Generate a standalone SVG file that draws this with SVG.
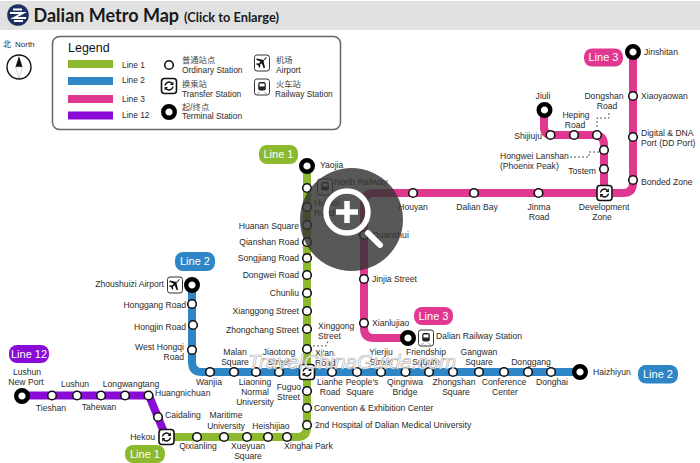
<svg xmlns="http://www.w3.org/2000/svg" width="700" height="463" viewBox="0 0 700 463">
<style>
text{font-family:"Liberation Sans",Arial,"Noto Sans CJK SC",sans-serif;font-size:8.6px;fill:#2b2b2b}
.e{text-anchor:end}.m{text-anchor:middle}
.ln{fill:none;stroke-width:8;stroke-linejoin:round}
.st{fill:#fff;stroke:#111;stroke-width:1.6}
.tm{fill:#fff;stroke:#000;stroke-width:4.4}
.tag{font-size:11px;fill:#fff;text-anchor:middle}
.leg{font-size:8.4px}
.cn{font-size:8.3px;fill:#444}
.ic{fill:#fff;stroke:#333;stroke-width:1}
</style>
<defs>
<g id="s"><circle r="4.3" class="st"/></g>
<g id="t"><circle r="5.8" class="tm"/></g>
<g id="x"><rect x="-7.5" y="-7.5" width="15" height="15" rx="3" fill="#fff" stroke="#111" stroke-width="1.6"/><path d="M-4 -.5A4 4 0 0 1 3 -2.5M4 .5A4 4 0 0 1 -3 2.5" fill="none" stroke="#111" stroke-width="1.5"/><path d="M4.4 -4.5V-1H1ZM-4.4 4.5V1H-1Z" fill="#111"/></g>
<g id="r"><rect x="-7.5" y="-8" width="15" height="16" rx="2.5" class="ic"/><rect x="-3.8" y="-5" width="7.6" height="8.5" rx="2" fill="#222"/><rect x="-2.5" y="-3.5" width="5" height="3" fill="#fff"/><path d="M-3 5.5L-4 6.5M3 5.5L4 6.5" stroke="#222"/></g>
<g id="a"><rect x="-7.5" y="-8" width="15" height="16" rx="2.5" class="ic"/><path d="M5 -5.5L1.500 -2L3 4.500L1.800 5.500L-.3 .2L-2 1.800L-1.800 4L-2.800 4.800L-3.800 2.200L-6 1.200L-5.300 .2L-3 .4L-1.300 -1.300L-6 -3.400L-5 -4.500L1.400 -3L4 -5.800Z" fill="#111"/></g>
</defs>

<g id="header">
<rect x="0" y="1" width="700" height="29" fill="#e1e1e1"/>
<circle cx="18" cy="15" r="10.8" fill="#1e2f63"/>
<path d="M10 13H23L14 18H26M13 9.500H22M14 21H23" fill="none" stroke="#fff" stroke-width="2"/>
<text x="33.500" y="22" style="font-family:Lato,sans-serif;font-size:18px;font-weight:700;fill:#1a1a1a">Dalian Metro Map</text>
<text x="184" y="22" style="font-family:Lato,sans-serif;font-size:12.8px;font-weight:700;fill:#1a1a1a">(Click to Enlarge)</text>
</g>

<g id="compass">
<text x="3" y="47" style="font-size:8px">北</text><text x="15" y="47" style="font-size:8px">North</text>
<circle cx="19" cy="67" r="12" fill="#fff" stroke="#111" stroke-width="1.4"/>
<path d="M19 56L15.500 67H22.500Z" fill="#111"/><path d="M15.500 67H22.500L19 78Z" fill="#fff" stroke="#bbb" stroke-width=".6"/>
</g>

<g id="legend">
<rect x="52.500" y="36.500" width="288" height="93" rx="7" fill="#fff" stroke="#666" stroke-width="1.5"/>
<text x="68" y="52" style="font-size:12.5px;fill:#111">Legend</text>
<rect x="68" y="60" width="45" height="8" fill="#8db92e"/><rect x="68" y="77" width="45" height="8" fill="#2f86c6"/><rect x="68" y="95" width="45" height="8" fill="#e0388f"/><rect x="68" y="111.500" width="45" height="8" fill="#8a0bd8"/>
<text x="122" y="68" class="leg">Line 1</text><text x="122" y="83" class="leg">Line 2</text><text x="122" y="102" class="leg">Line 3</text><text x="122" y="118" class="leg">Line 12</text>
<use href="#s" x="169" y="65"/><use href="#x" x="169" y="86"/><use href="#t" x="169" y="112"/>
<text x="182" y="63" class="cn">普通站点</text><text x="182" y="72.500" class="leg">Ordinary Station</text>
<text x="182" y="87" class="cn">换乘站</text><text x="182" y="96.500" class="leg">Transfer Station</text>
<text x="182" y="110" class="cn">起/终点</text><text x="182" y="119" class="leg">Terminal Station</text>
<use href="#a" x="262" y="63"/><use href="#r" x="262" y="87"/>
<text x="276" y="63" class="cn">机场</text><text x="276" y="72.500" class="leg">Airport</text>
<text x="276" y="87" class="cn">火车站</text><text x="275" y="96.500" class="leg">Railway Station</text>
</g>

<g id="connectors">
<path class="ln" stroke="#8a0bd8" d="M22 395.500H149L166 437"/>
<path class="ln" stroke="#8db92e" d="M307 166V427Q307 437 297 437H166"/>
<path class="ln" stroke="#2f86c6" d="M192 285V362Q192 372 202 372H580"/>
<path class="ln" stroke="#e0388f" d="M633 52V183Q633 193 623 193H374Q364 193 364 203V328Q364 338 374 338H408"/>
<path class="ln" stroke="#e0388f" d="M544 110V127Q544 135 552 135H594Q604 135 604 145V193"/>
<path d="M313 346H326L328 341" fill="none" stroke="#555" stroke-width="1" stroke-dasharray="2 2"/>
<path d="M597 127V118H609V112M570 157H589V152H599" fill="none" stroke="#555" stroke-width="1" stroke-dasharray="2 2"/>
</g>

<g id="tag-line1a"><rect x="259" y="145" width="39" height="19" rx="8" fill="#8db92e"/><text x="278.500" y="158" class="tag">Line 1</text></g>
<g id="tag-line2a"><rect x="175" y="252" width="40" height="19" rx="8" fill="#2f86c6"/><text x="195" y="265" class="tag">Line 2</text></g>
<g id="tag-line3a"><rect x="584" y="48.500" width="39" height="18" rx="8" fill="#e0388f"/><text x="603.500" y="61" class="tag">Line 3</text></g>
<g id="tag-line3b"><rect x="414" y="307" width="39" height="18" rx="8" fill="#e0388f"/><text x="433.500" y="320" class="tag">Line 3</text></g>
<g id="tag-line2b"><rect x="638" y="365" width="40" height="18.500" rx="8" fill="#2f86c6"/><text x="658" y="378" class="tag">Line 2</text></g>
<g id="tag-line12"><rect x="9" y="345" width="40" height="18" rx="8" fill="#8a0bd8"/><text x="29" y="358" class="tag">Line 12</text></g>
<g id="tag-line1b"><rect x="125" y="445" width="40" height="18" rx="8" fill="#8db92e"/><text x="145" y="458" class="tag">Line 1</text></g>

<g id="n-yaojia"><use href="#t" x="307" y="166"/><text x="320" y="168">Yaojia</text></g>
<g id="n-northrailway"><use href="#s" x="307" y="188"/><use href="#r" x="325" y="187"/><text x="334" y="185">North Railway</text></g>
<g id="n-huiwei"><use href="#s" x="307" y="207"/><text x="314" y="206">Huiwei</text><text x="314" y="216">Road</text></g>
<g id="n-huanan"><use href="#s" x="307" y="225"/><text x="299" y="229" class="e">Huanan Square</text></g>
<g id="n-qianshan"><use href="#s" x="307" y="242"/><text x="299" y="245" class="e">Qianshan Road</text></g>
<g id="n-songjiang"><use href="#s" x="307" y="258"/><text x="299" y="260.500" class="e">Songjiang Road</text></g>
<g id="n-dongwei"><use href="#s" x="307" y="275"/><text x="299" y="278" class="e">Dongwei Road</text></g>
<g id="n-chunliu"><use href="#s" x="307" y="293"/><text x="299" y="296" class="e">Chunliu</text></g>
<g id="n-xianggong"><use href="#s" x="307" y="311"/><text x="299" y="314" class="e">Xianggong Street</text></g>
<g id="n-zhongchang"><use href="#s" x="307" y="329"/><text x="299" y="333" class="e">Zhongchang Street</text></g>
<g id="n-xian"><use href="#s" x="307" y="349"/><text x="315" y="356">Xi'an</text><text x="315" y="366">Road</text></g>
<g id="n-xinggong"><text x="318" y="329">Xinggong</text><text x="318" y="339">Street</text></g>
<g id="n-fuguo"><use href="#s" x="307" y="391"/><text x="301" y="390" class="e">Fuguo</text><text x="300" y="400" class="e">Street</text></g>
<g id="n-convention"><use href="#s" x="307" y="408"/><text x="314" y="411">Convention &amp; Exhibition Center</text></g>
<g id="n-hospital"><use href="#s" x="307" y="425"/><text x="315" y="428">2nd Hospital of Dalian Medical University</text></g>
<g id="n-xinghai"><use href="#s" x="287" y="437"/><text x="284" y="449">Xinghai Park</text></g>
<g id="n-heishijiao"><use href="#s" x="268" y="437"/><text x="271" y="429" class="m">Heishijiao</text></g>
<g id="n-xueyuan"><use href="#s" x="247" y="437"/><text x="248" y="449" class="m">Xueyuan</text><text x="248" y="459" class="m">Square</text></g>
<g id="n-maritime"><use href="#s" x="224" y="437"/><text x="226" y="418" class="m">Maritime</text><text x="226" y="429" class="m">University</text></g>
<g id="n-qixianling"><use href="#s" x="197" y="437"/><text x="198" y="449" class="m">Qixianling</text></g>
<g id="n-airport"><use href="#a" x="175" y="285"/><use href="#t" x="192" y="285"/><text x="164" y="287" class="e">Zhoushuizi Airport</text></g>
<g id="n-honggang"><use href="#s" x="192" y="304"/><text x="186" y="308" class="e">Honggang Road</text></g>
<g id="n-hongjin"><use href="#s" x="193" y="325"/><text x="186" y="330" class="e">Hongjin Road</text></g>
<g id="n-hongqi"><use href="#s" x="192" y="350"/><text x="184" y="350" class="e">West Hongqi</text><text x="184" y="360" class="e">Road</text></g>
<g id="n-wanjia"><use href="#s" x="210" y="372"/><text x="209" y="385" class="m">Wanjia</text></g>
<g id="n-malan"><use href="#s" x="234" y="372"/><text x="235" y="355" class="m">Malan</text><text x="235" y="365" class="m">Square</text></g>
<g id="n-liaoning"><use href="#s" x="256" y="372"/><text x="255" y="385" class="m">Liaoning</text><text x="255" y="395" class="m">Normal</text><text x="255" y="405" class="m">University</text></g>
<g id="n-jiaotong"><use href="#s" x="279" y="372"/><text x="279" y="355" class="m">Jiaotong</text><text x="279" y="365" class="m">Street</text></g>
<g id="n-lianhe"><use href="#s" x="332" y="372"/><text x="330" y="385" class="m">Lianhe</text><text x="330" y="395" class="m">Road</text></g>
<g id="n-peoples"><use href="#s" x="357" y="372"/><text x="362" y="385" class="m">People's</text><text x="360" y="395" class="m">Square</text></g>
<g id="n-yierjiu"><use href="#s" x="381" y="372"/><text x="381" y="355" class="m">Yierjiu</text><text x="381" y="365" class="m">Street</text></g>
<g id="n-qingniwa"><use href="#s" x="405.500" y="372"/><text x="405" y="385" class="m">Qingniwa</text><text x="405" y="395" class="m">Bridge</text></g>
<g id="n-friendship"><use href="#s" x="429" y="372"/><text x="426" y="355" class="m">Friendship</text><text x="426" y="365" class="m">Square</text></g>
<g id="n-zhongshan"><use href="#s" x="453" y="372"/><text x="454" y="385" class="m">Zhongshan</text><text x="456" y="395" class="m">Square</text></g>
<g id="n-gangwan"><use href="#s" x="479" y="372"/><text x="479" y="355" class="m">Gangwan</text><text x="479" y="365" class="m">Square</text></g>
<g id="n-conference"><use href="#s" x="504" y="372"/><text x="504" y="385" class="m">Conference</text><text x="505" y="395" class="m">Center</text></g>
<g id="n-donggang"><use href="#s" x="528" y="372"/><text x="531" y="365" class="m">Donggang</text></g>
<g id="n-donghai"><use href="#s" x="551" y="372"/><text x="552" y="385" class="m">Donghai</text></g>
<g id="n-haizhiyun"><use href="#t" x="580" y="372"/><text x="593" y="375">Haizhiyun</text></g>
<g id="n-jinshitan"><use href="#t" x="633" y="52"/><text x="644" y="55">Jinshitan</text></g>
<g id="n-xiaoyaowan"><use href="#s" x="633" y="96"/><text x="641" y="99">Xiaoyaowan</text></g>
<g id="n-digital"><use href="#s" x="633" y="137"/><text x="641" y="136">Digital &amp; DNA</text><text x="641" y="146">Port (DD Port)</text></g>
<g id="n-bonded"><use href="#s" x="633" y="180"/><text x="641" y="185">Bonded Zone</text></g>
<g id="n-jinma"><use href="#s" x="538.500" y="193"/><text x="539" y="210" class="m">Jinma</text><text x="539" y="220" class="m">Road</text></g>
<g id="n-dalianbay"><use href="#s" x="474" y="193"/><text x="477" y="210" class="m">Dalian Bay</text></g>
<g id="n-houyan"><use href="#s" x="413" y="193"/><text x="413" y="210" class="m">Houyan</text></g>
<g id="n-tostem"><use href="#s" x="604" y="169"/><text x="596" y="174" class="e">Tostem</text></g>
<g id="n-hongwei"><use href="#s" x="604" y="150"/><text x="500" y="159">Hongwei Lanshan</text><text x="500" y="169">(Phoenix Peak)</text></g>
<g id="n-dongshan"><use href="#s" x="597" y="135"/><text x="604" y="99" class="m">Dongshan</text><text x="607" y="109" class="m">Road</text></g>
<g id="n-heping"><use href="#s" x="574" y="135"/><text x="576" y="118" class="m">Heping</text><text x="575" y="128" class="m">Road</text></g>
<g id="n-shijiju"><use href="#s" x="550.500" y="135"/><text x="542" y="139" class="e">Shijiuju</text></g>
<g id="n-jiuli"><use href="#t" x="544.500" y="110"/><text x="543" y="99" class="m">Jiuli</text></g>
<g id="n-development"><use href="#x" x="604.500" y="193"/><text x="604" y="210" class="m">Development</text><text x="602" y="220" class="m">Zone</text></g>
<g id="n-quanshui"><use href="#s" x="364" y="235"/><text x="372" y="238">Quanshui</text></g>
<g id="n-jinjia"><use href="#s" x="364" y="279"/><text x="372" y="282">Jinjia Street</text></g>
<g id="n-xianlujiao"><use href="#s" x="364" y="323"/><text x="372" y="326">Xianlujiao</text></g>
<g id="n-dalianrailway"><use href="#t" x="408" y="338"/><use href="#r" x="426" y="338"/><text x="436" y="339">Dalian Railway Station</text></g>
<g id="n-lushunport"><use href="#t" x="22" y="396"/><text x="27" y="375" class="m">Lushun</text><text x="26" y="385" class="m">New Port</text></g>
<g id="n-tieshan"><use href="#s" x="52" y="395.500"/><text x="51" y="411" class="m">Tieshan</text></g>
<g id="n-lushun"><use href="#s" x="77" y="395.500"/><text x="75" y="387" class="m">Lushun</text></g>
<g id="n-tahewan"><use href="#s" x="101" y="395.500"/><text x="99" y="410" class="m">Tahewan</text></g>
<g id="n-longwangtang"><use href="#s" x="125" y="395.500"/><text x="131" y="387" class="m">Longwangtang</text></g>
<g id="n-huangnichuan"><use href="#s" x="148.500" y="395.500"/><text x="155" y="396">Huangnichuan</text></g>
<g id="n-caidaling"><use href="#s" x="158" y="417"/><text x="165" y="418">Caidaling</text></g>
<g id="n-hekou"><use href="#x" x="166.500" y="437"/><text x="155" y="440" class="e">Hekou</text></g>
<g id="n-interchange"><use href="#x" x="307" y="372"/></g>

<text x="248" y="369" style="font-size:20.5px;font-style:italic;fill:#fff;fill-opacity:.85;stroke:#aaa;stroke-width:.6">TravelChinaGuide.com</text>

<g id="magnifier">
<circle cx="351.500" cy="219.500" r="51.500" fill="#333" fill-opacity=".82"/>
<circle cx="347" cy="212" r="21" fill="none" stroke="#fff" stroke-width="5.500"/>
<path d="M336 212H358M347 201V223" stroke="#fff" stroke-width="5.500"/>
<path d="M368 233L380 245" stroke="#fff" stroke-width="6" stroke-linecap="round"/>
</g>
</svg>
